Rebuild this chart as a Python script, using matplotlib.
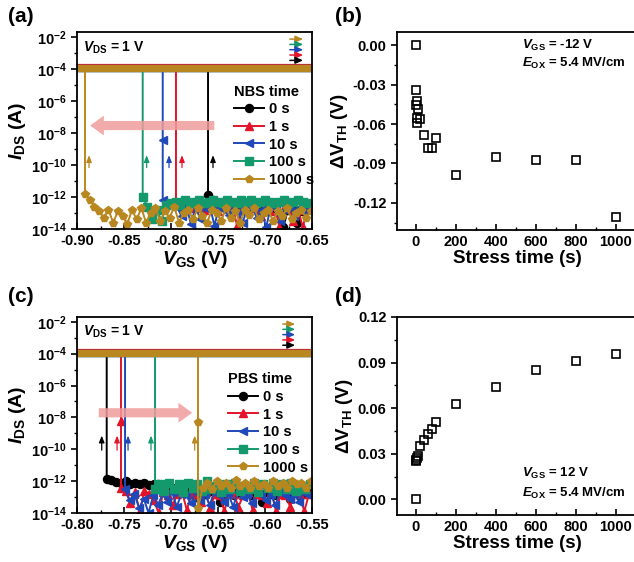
import numpy as np
import matplotlib
matplotlib.use("Agg")
import matplotlib.pyplot as plt
from matplotlib.ticker import MultipleLocator, FixedLocator, NullFormatter

plt.rcParams.update({
    "font.family": "Liberation Sans",
    "font.weight": "bold",
    "axes.labelweight": "bold",
    "axes.linewidth": 1.3,
    "axes.unicode_minus": False,
    "mathtext.fontset": "custom",
    "mathtext.rm": "Liberation Sans:bold",
    "mathtext.bf": "Liberation Sans:bold",
    "mathtext.it": "Liberation Sans:italic:bold",
    "mathtext.default": "rm",
})

# ---- shared styling for the I-V curves
labels = ["0 s", "1 s", "10 s", "100 s", "1000 s"]
colors = ["#000000", "#e3142a", "#1f48b8", "#14996c", "#b8871f"]
markers = ["o", "^", "<", "s", "p"]
step = 0.005  # sweep step (V)

# ---- (a) NBS: threshold voltage, mid points (log10 A), on current, off-state noise (log10 A)
vth_a = [-0.7606, -0.7947, -0.8088, -0.8301, -0.8915]
mid_a = [[], [], [-8.47], [], []]
on_a = [1.12e-4, 1.3e-4, 1.12e-4, 1.15e-4, 1.15e-4]
low_a_black = [-11.85, -12.2, -12.4, -12.5, -12.6, -12.5, -12.7, -12.6, -12.8, -12.6, -12.7, -12.9,
               -12.6, -12.8, -12.7, -13.0, -13.9, -12.8, -12.7, -13.6, -12.9, -12.7, -12.8]
low_a_red = [-12.3, -12.5, -12.6, -12.4, -12.7, -12.5, -12.8, -12.6, -12.5, -12.9, -12.6, -12.7,
             -12.5, -13.8, -12.6, -12.8, -12.5, -12.7, -13.2, -12.6, -12.9, -12.5, -13.9, -12.7,
             -12.6, -13.5, -12.8, -13.9, -12.6]
low_a_blue = [-12.2, -12.4, -12.3, -12.6, -13.2, -12.5, -13.7, -12.6, -13.4, -12.7, -12.5, -13.8,
              -12.6, -12.8, -13.1, -12.6, -12.9, -13.6, -12.7, -12.6, -13.3, -12.8, -13.9, -12.6,
              -12.7, -13.5, -12.8, -12.6, -13.2, -12.7, -12.9, -12.6]
low_a_green = [-12.0, -12.6, -13.4, -12.8, -13.5, -12.5, -12.4, -12.3, -12.5, -12.2, -12.4, -12.3,
               -12.2, -12.4, -12.3, -12.2, -12.3, -12.4, -12.2, -12.3, -12.4, -12.2, -12.3, -12.2,
               -12.4, -12.3, -12.2, -12.3, -12.4, -12.3, -12.2, -12.4, -12.3, -12.2, -12.3, -12.4]
low_a_gold = [-11.8, -12.2, -12.6, -12.9, -13.3, -12.8, -13.6, -12.9, -13.2, -13.7, -12.8, -13.4,
              -12.7, -13.6, -13.0, -12.7, -13.5, -12.9, -13.3, -12.6, -13.6, -13.0, -12.8, -13.4,
              -12.7, -13.2, -13.6, -12.8, -13.0, -13.5, -12.7, -13.3, -12.9, -13.6, -12.8, -13.1,
              -12.7, -13.4, -13.0, -12.8, -13.5, -12.9, -13.2, -12.7, -13.4, -13.0, -12.8, -13.3, -12.9]
low_a = [low_a_black, low_a_red, low_a_blue, low_a_green, low_a_gold]

# ---- (c) PBS
vth_c = [-0.7684, -0.7532, -0.7489, -0.7170, -0.6713]
mid_c = [[], [-8.2], [], [], [-8.3]]
on_c = [1.12e-4, 1.3e-4, 1.12e-4, 1.15e-4, 1.15e-4]
low_c_black = [-11.85, -11.95, -12.05, -12.1, -12.0, -12.15, -12.1, -12.2, -12.1, -12.25, -12.15,
               -12.2, -12.3, -12.2, -12.4, -12.6, -12.5, -12.7, -12.6, -13.0, -12.7, -12.8, -12.6,
               -12.7, -13.3, -12.8, -12.7, -12.9, -12.7, -12.8, -12.6, -12.9, -12.8, -13.3, -12.7,
               -12.8, -12.9, -12.7, -12.8, -13.1, -12.7, -12.9, -12.8, -12.7]
low_c_red = [-12.4, -12.6, -13.4, -12.7, -13.9, -12.6, -12.8, -13.2, -14.0, -12.7, -12.9, -13.5,
             -12.8, -12.7, -13.8, -12.8, -12.9, -13.3, -12.7, -13.7, -12.8, -12.9, -13.9, -12.7,
             -12.8, -13.6, -12.9, -12.7, -13.8, -12.8, -12.9, -13.4, -12.7, -13.9, -12.8, -12.9,
             -13.6, -12.7, -12.8, -13.9, -12.8]
low_c_blue = [-12.5, -13.2, -12.8, -13.7, -13.1, -14.0, -12.9, -13.5, -12.8, -13.3, -12.7, -13.6,
              -12.8, -12.9, -13.4, -12.7, -13.2, -12.8, -13.5, -12.7, -12.9, -13.3, -12.8, -13.6,
              -12.7, -13.0, -12.8, -13.4, -12.7, -12.9, -13.2, -12.8, -13.5, -12.7, -12.9, -13.1,
              -12.8, -13.3, -12.7, -12.9]
low_c_green = [-12.5, -12.2, -12.6, -12.1, -12.5, -12.2, -12.7, -12.1, -12.4, -12.2, -12.6, -12.0,
               -12.5, -12.3, -12.7, -12.2, -12.5, -12.1, -12.6, -12.3, -12.5, -12.1, -12.7, -12.2,
               -12.4, -12.1, -12.6, -12.2, -12.5, -12.1, -12.6, -12.3, -12.5, -12.2]
low_c_gold = [-13.7, -12.4, -12.1, -12.5, -12.0, -12.3, -12.1, -12.4, -11.95, -12.3, -12.1, -12.4,
              -12.0, -12.3, -12.2, -12.4, -12.0, -12.3, -12.1, -12.4, -12.0, -12.2, -12.1, -12.4, -12.0]
low_c = [low_c_black, low_c_red, low_c_blue, low_c_green, low_c_gold]

# ---- (b) NBS threshold shift
t_b = [0, 1, 2, 3, 5, 7, 10, 20, 40, 60, 80, 100, 200, 400, 600, 800, 1000]
dv_b = [0.0, -0.0456, -0.0343, -0.0593, -0.0555, -0.0425, -0.0483, -0.0565, -0.0687, -0.0783,
        -0.0783, -0.0704, -0.0987, -0.0847, -0.0877, -0.0877, -0.131]

# ---- (d) PBS threshold shift
t_d = [0, 1, 2, 5, 10, 20, 40, 60, 80, 100, 200, 400, 600, 800, 1000]
dv_d = [0.0, 0.0252, 0.0262, 0.0272, 0.0285, 0.035, 0.0388, 0.0427, 0.0462, 0.0508, 0.0628,
        0.074, 0.085, 0.0909, 0.0959]

MS = 5.8


def iv_panel(ax, xlim, vth, mid, on, low, pink, up_x, up_y, arrow_x, arrow_y):
    handles = []
    for i in range(5):
        # on-state (compliance) band, drawn as a thick line
        ax.plot(list(xlim), [on[i], on[i]], color=colors[i], lw=5.2, solid_capstyle="butt")
        lo = np.array(low[i])
        xl = vth[i] + step * np.arange(len(lo))
        x = np.r_[[vth[i]] * (1 + len(mid[i])), xl]
        y = np.r_[on[i], 10.0 ** np.array(mid[i]), 10.0 ** lo]
        h, = ax.plot(x, y, color=colors[i], marker=markers[i], ms=MS, lw=1.4, label=labels[i],
                     markevery=slice(1, None))
        handles.append(h)
        # small upward arrows at each jump
        ax.annotate("", xy=(up_x[i], 10 ** up_y[1]), xytext=(up_x[i], 10 ** up_y[0]),
                    arrowprops=dict(arrowstyle="-|>,head_length=0.5,head_width=0.2",
                                    color=colors[i], lw=0.9, mutation_scale=8))
    # sweep-direction arrows at top right
    ys = [0.964, 0.937, 0.91, 0.883, 0.856]
    for k, i in enumerate([4, 3, 2, 1, 0]):
        ax.annotate("", xy=(arrow_x[1], ys[k]), xytext=(arrow_x[0], ys[k]),
                    xycoords="axes fraction",
                    arrowprops=dict(arrowstyle="-|>,head_length=0.5,head_width=0.22",
                                    color=colors[i], lw=1.1, mutation_scale=9))
    # big pink arrow
    ax.annotate("", xy=(pink[1], 10 ** arrow_y), xytext=(pink[0], 10 ** arrow_y),
                arrowprops=dict(arrowstyle="simple,head_length=0.9,head_width=1.3,tail_width=0.6",
                                fc="#f09c9c", ec="none", alpha=0.85, mutation_scale=11))
    ax.set_yscale("log")
    ax.set_xlim(xlim)
    ax.set_ylim(1e-14, 2e-2)
    ax.yaxis.set_major_locator(FixedLocator([10.0 ** e for e in range(-14, -1, 2)]))
    ax.yaxis.set_minor_locator(FixedLocator([10.0 ** e for e in range(-13, -1, 2)]))
    ax.yaxis.set_minor_formatter(NullFormatter())
    ax.set_yticklabels([r"$10^{%d}$" % e for e in range(-14, -1, 2)])
    ax.xaxis.set_major_locator(MultipleLocator(0.05))
    ax.xaxis.set_minor_locator(MultipleLocator(0.025))
    ax.xaxis.set_major_formatter(plt.FuncFormatter(lambda v, p: "%.2f" % v))
    ax.set_xlabel(r"$\it{V}_{\rm GS}$ (V)", fontsize=14, labelpad=1)
    ax.set_ylabel(r"$\it{I}_{\rm DS}$ (A)", fontsize=14, labelpad=2)
    ax.text(0.025, 0.922, r"$\it{V}_{\rm DS}$ = 1 V", transform=ax.transAxes, fontsize=10,
            va="center")
    return handles


fig = plt.figure(figsize=(6.34, 5.62), dpi=100)
W, H = 634.0, 562.0


def box(l, t, r, b):
    return [l / W, 1 - b / H, (r - l) / W, (b - t) / H]


ax_a = fig.add_axes(box(77, 32, 312, 229))
ax_b = fig.add_axes(box(397, 32, 638, 230))
ax_c = fig.add_axes(box(77, 317, 312, 513))
ax_d = fig.add_axes(box(397, 317, 638, 515))

leg_kw = dict(frameon=False, loc="upper left", fontsize=10.5, title_fontsize=10.5,
              labelspacing=0.25, handlelength=2.1, handletextpad=0.35, borderpad=0,
              alignment="left")

h_a = iv_panel(ax_a, (-0.90, -0.65), vth_a, mid_a, on_a, low_a,
               (-0.751, -0.889), [-0.7553, -0.7883, -0.8021, -0.8259, -0.8872], (-10.34, -9.22),
               (0.894, 0.974), -7.54)
ax_a.legend(handles=h_a, title="NBS time", bbox_to_anchor=(0.635, 0.77), **leg_kw)

h_c = iv_panel(ax_c, (-0.80, -0.55), vth_c, mid_c, on_c, low_c,
               (-0.7798, -0.6745), [-0.7737, -0.7574, -0.7457, -0.7213, -0.6748], (-10.23, -8.97),
               (0.864, 0.94), -7.71)
ax_c.legend(handles=h_c, title="PBS time", bbox_to_anchor=(0.61, 0.755), **leg_kw)

for ax, t, dv in [(ax_b, t_b, dv_b), (ax_d, t_d, dv_d)]:
    ax.plot(t, dv, ls="none", marker="s", mfc="none", mec="k", ms=5.5, mew=1.2)
    ax.set_xlim(-95, 1110)
    ax.xaxis.set_major_locator(MultipleLocator(200))
    ax.xaxis.set_minor_locator(MultipleLocator(100))
    ax.yaxis.set_major_locator(MultipleLocator(0.03))
    ax.yaxis.set_minor_locator(MultipleLocator(0.015))
    ax.yaxis.set_major_formatter(plt.FuncFormatter(lambda v, p: "%.2f" % (v + 0.0)))
    ax.set_xlabel("Stress time (s)", fontsize=13.5, labelpad=1)
    ax.set_ylabel(r"$\Delta$V$_{\rm TH}$ (V)", fontsize=13.5, labelpad=2)

ax_b.set_ylim(-0.1406, 0.01)
ax_d.set_ylim(-0.0103, 0.12)
ann = dict(fontsize=9.5, va="center")
ax_b.text(0.52, 0.934, r"$\it{V}_{\rm GS}$ = -12 V", transform=ax_b.transAxes, **ann)
ax_b.text(0.52, 0.843, r"$\it{E}_{\rm OX}$ = 5.4 MV/cm", transform=ax_b.transAxes, **ann)
ax_d.text(0.52, 0.212, r"$\it{V}_{\rm GS}$ = 12 V", transform=ax_d.transAxes, **ann)
ax_d.text(0.52, 0.111, r"$\it{E}_{\rm OX}$ = 5.4 MV/cm", transform=ax_d.transAxes, **ann)

for ax in [ax_a, ax_b, ax_c, ax_d]:
    ax.tick_params(which="major", direction="in", length=4, width=1.2, labelsize=10.5)
    ax.tick_params(which="minor", direction="in", length=2.5, width=1.0)
    ax.tick_params(axis="y", which="both", direction="out")

fig.text(8 / W, 1 - 17 / H, "(a)", fontsize=15, va="center")
fig.text(335 / W, 1 - 17 / H, "(b)", fontsize=15, va="center")
fig.text(8 / W, 1 - 296 / H, "(c)", fontsize=15, va="center")
fig.text(335 / W, 1 - 296 / H, "(d)", fontsize=15, va="center")

fig.savefig("out.png", dpi=100)
